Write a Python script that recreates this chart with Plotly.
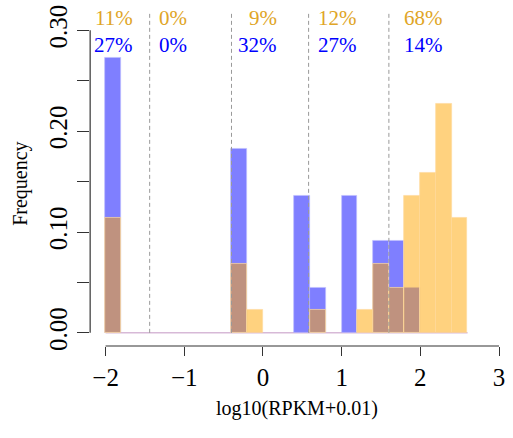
import plotly.graph_objects as go

# ---- data ----
bin_width = 0.2
blue_bin_starts = [-2.0, -0.4, 0.4, 0.6, 1.0, 1.4, 1.6, 1.8]
blue_freq = [0.273, 0.182, 0.136, 0.045, 0.136, 0.091, 0.091, 0.045]
orange_bin_starts = [-2.0, -0.4, -0.2, 0.6, 1.2, 1.4, 1.6, 1.8, 2.0, 2.2, 2.4]
orange_freq = [0.114, 0.068, 0.023, 0.023, 0.023, 0.068, 0.045, 0.136, 0.159, 0.227, 0.114]
hist_range = [-2.0, 2.6]
cut_points = [-1.44, -0.4, 0.58, 1.6]
label_x = [-1.62, -0.937, 0.203, 1.215, 2.316]
orange_labels = ["11%", "0%", "9%", "12%", "68%"]
blue_labels = ["27%", "0%", "32%", "27%", "14%"]
x_ticks = [-2, -1, 0, 1, 2, 3]
x_ticktext = ["\u22122", "\u22121", "0", "1", "2", "3"]
y_ticks = [0, 0.05, 0.10, 0.15, 0.20, 0.25, 0.30]
y_ticktext = ["0.00", "", "0.10", "", "0.20", "", "0.30"]

W, H = 513, 438
# pixel mapping of the plot region
X0PX, XPU = 106.0, 79.0      # px of x=-2 and px per unit
Y0PX, YPU = 336.7, 1020.0    # px of y=0 and px per unit
L, R, T, B = 90.5, 505.0, 5.0, 350.0

xr = [-2 + (L - X0PX) / XPU, -2 + (R - X0PX) / XPU]
yr = [-(B - Y0PX) / YPU, (Y0PX - T) / YPU]

def px_x(v):
    return (X0PX + (v + 2) * XPU) / W

def py_y(v):
    return 1 - (Y0PX - v * YPU) / H

FONT = "Liberation Serif"

fig = go.Figure()
fig.add_trace(go.Bar(
    x=blue_bin_starts, y=blue_freq, width=bin_width, offset=0,
    marker=dict(color="rgba(0,0,255,0.5)", line=dict(color="rgba(190,190,255,0.7)", width=1)),
    showlegend=False))
fig.add_trace(go.Bar(
    x=orange_bin_starts, y=orange_freq, width=bin_width, offset=0,
    marker=dict(color="rgba(255,165,0,0.5)", line=dict(color="rgba(255,220,160,0.7)", width=1)),
    showlegend=False))

shapes = []
# baseline of empty bins
shapes.append(dict(type="line", xref="x", yref="y", x0=hist_range[0], x1=hist_range[1], y0=0, y1=0,
                   line=dict(color="rgba(215,185,215,1)", width=1.5), layer="below"))
for c in cut_points:
    shapes.append(dict(type="line", xref="x", yref="y", x0=c, x1=c, y0=0, y1=0.317,
                       line=dict(color="#999999", width=1, dash="4px,3px"), layer="above"))
# R-style detached axis lines
shapes.append(dict(type="line", xref="paper", yref="paper",
                   x0=px_x(x_ticks[0]), x1=px_x(x_ticks[-1]), y0=1 - B / H, y1=1 - B / H,
                   line=dict(color="#333333", width=1.2)))
shapes.append(dict(type="line", xref="paper", yref="paper",
                   x0=L / W, x1=L / W, y0=py_y(y_ticks[0]), y1=py_y(y_ticks[-1]),
                   line=dict(color="#333333", width=1.2)))

annotations = []
for xv, t in zip(label_x, orange_labels):
    annotations.append(dict(x=xv, y=1 - 18 / H, xref="x", yref="paper", text=t, showarrow=False,
                            xanchor="right", yanchor="middle",
                            font=dict(family=FONT, size=21, color="#E0A526")))
for xv, t in zip(label_x, blue_labels):
    annotations.append(dict(x=xv, y=1 - 46 / H, xref="x", yref="paper", text=t, showarrow=False,
                            xanchor="right", yanchor="middle",
                            font=dict(family=FONT, size=21, color="#0000FF")))
annotations.append(dict(x=298 / W, y=1 - 413 / H, xref="paper", yref="paper", text="log10(RPKM+0.01)",
                        showarrow=False, xanchor="center", yanchor="middle",
                        font=dict(family=FONT, size=20, color="black")))
annotations.append(dict(x=21 / W, y=1 - 186 / H, xref="paper", yref="paper", text="Frequency",
                        showarrow=False, xanchor="center", yanchor="middle", textangle=-90,
                        font=dict(family=FONT, size=20, color="black")))

fig.update_layout(
    width=W, height=H, margin=dict(l=0, r=0, t=0, b=0),
    paper_bgcolor="white", plot_bgcolor="white",
    barmode="overlay", bargap=0,
    shapes=shapes, annotations=annotations,
    xaxis=dict(domain=[L / W, R / W], range=xr, showgrid=False, zeroline=False, showline=False,
               tickmode="array", tickvals=x_ticks, ticktext=x_ticktext,
               ticks="outside", ticklen=9, tickwidth=1.2, tickcolor="#333333",
               tickfont=dict(family=FONT, size=25, color="black")),
    yaxis=dict(domain=[1 - B / H, 1 - T / H], range=yr, showgrid=False, zeroline=False, showline=False,
               tickmode="array", tickvals=y_ticks, ticktext=y_ticktext, tickangle=-90,
               ticks="outside", ticklen=12, tickwidth=1.2, tickcolor="#333333",
               tickfont=dict(family=FONT, size=25, color="black")),
)

fig.write_html("out.html")
